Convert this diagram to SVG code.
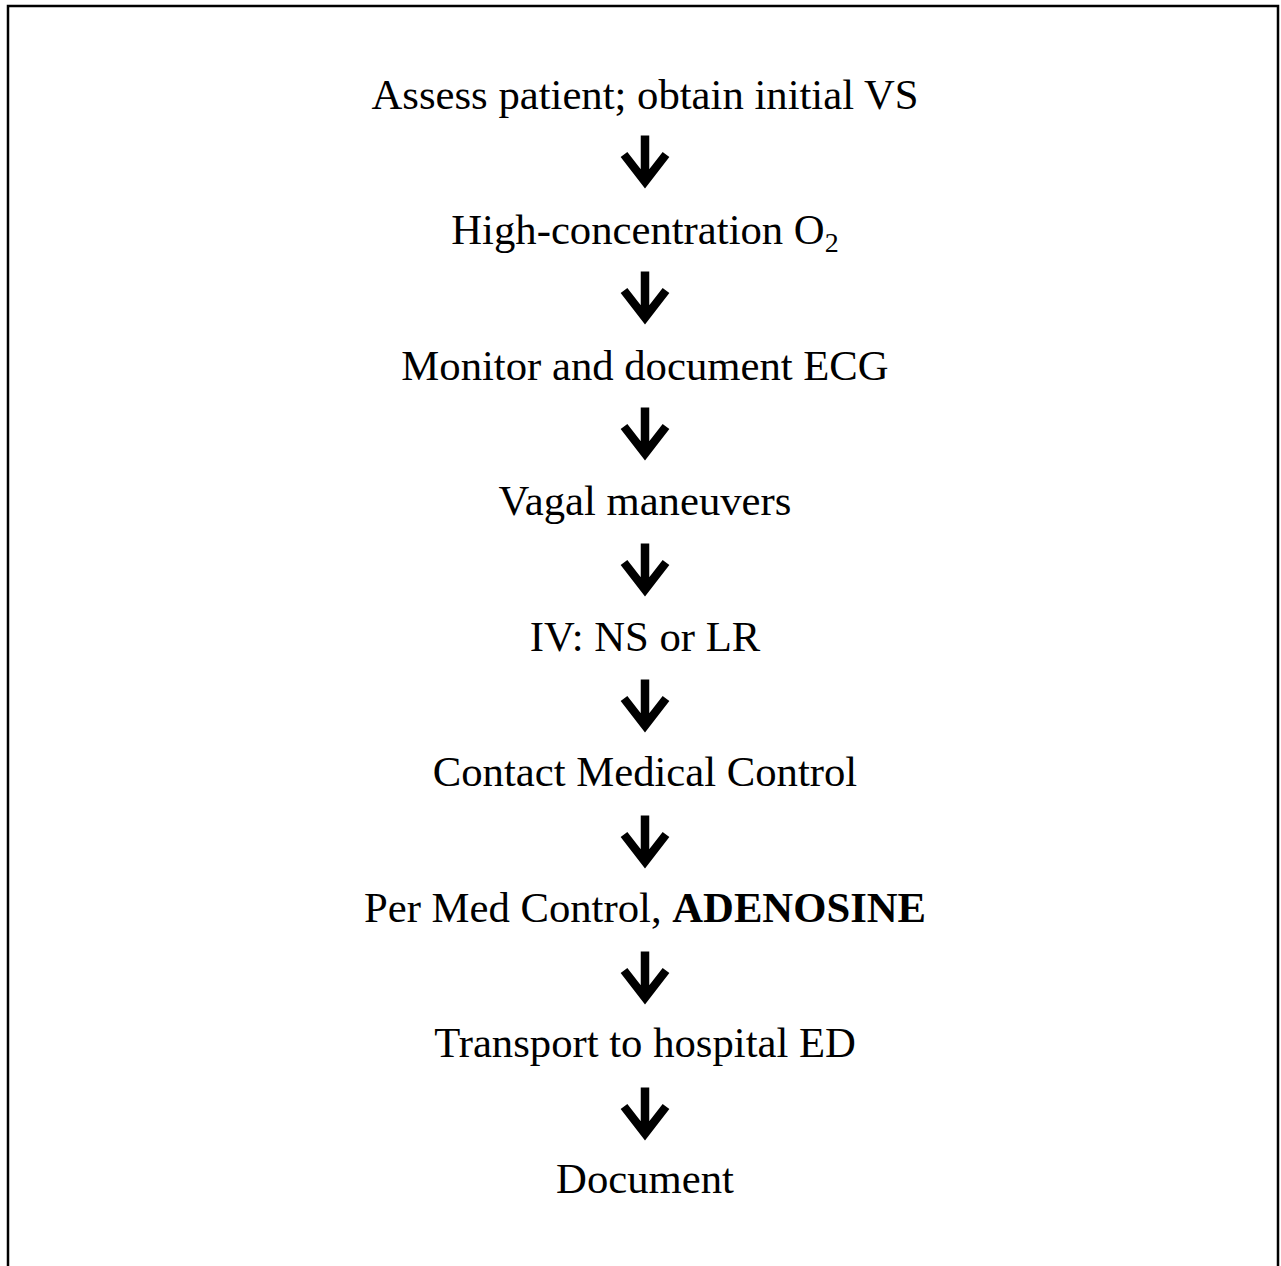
<svg xmlns="http://www.w3.org/2000/svg" width="1281" height="1266" viewBox="0 0 1281 1266">
<style>
.t{font-family:"Liberation Serif","Times New Roman",serif;font-size:42.7px;fill:#000;text-anchor:middle}
.a{fill:none;stroke:#000;stroke-width:8.5;stroke-linejoin:miter;stroke-miterlimit:10}
</style>
<defs>
<g id="arr"><path class="a" d="M0,-26 V20 M-21,-7 L0,20 L21,-7" /></g>
</defs>
<rect width="1281" height="1266" fill="#fff"/>
<path d="M8,1266 V6 H1278 V1266" fill="none" stroke="#000" stroke-width="2.5"/>
<g id="connectors">
<use href="#arr" x="645" y="161.5"/>
<use href="#arr" x="645" y="297.5"/>
<use href="#arr" x="645" y="433.5"/>
<use href="#arr" x="645" y="569.5"/>
<use href="#arr" x="645" y="705.5"/>
<use href="#arr" x="645" y="841.5"/>
<use href="#arr" x="645" y="977.5"/>
<use href="#arr" x="645" y="1113.5"/>
</g>
<g id="n1"><text class="t" x="645" y="109">Assess patient; obtain initial VS</text></g>
<g id="n2"><text class="t" x="645" y="244">High-concentration O<tspan font-size="28" dy="8">2</tspan></text></g>
<g id="n3"><text class="t" x="645" y="380">Monitor and document ECG</text></g>
<g id="n4"><text class="t" x="645" y="515">Vagal maneuvers</text></g>
<g id="n5"><text class="t" x="645" y="651">IV: NS or LR</text></g>
<g id="n6"><text class="t" x="645" y="786">Contact Medical Control</text></g>
<g id="n7"><text class="t" x="645" y="922">Per Med Control, <tspan font-weight="bold">ADENOSINE</tspan></text></g>
<g id="n8"><text class="t" x="645" y="1057">Transport to hospital ED</text></g>
<g id="n9"><text class="t" x="645" y="1193">Document</text></g>
</svg>
